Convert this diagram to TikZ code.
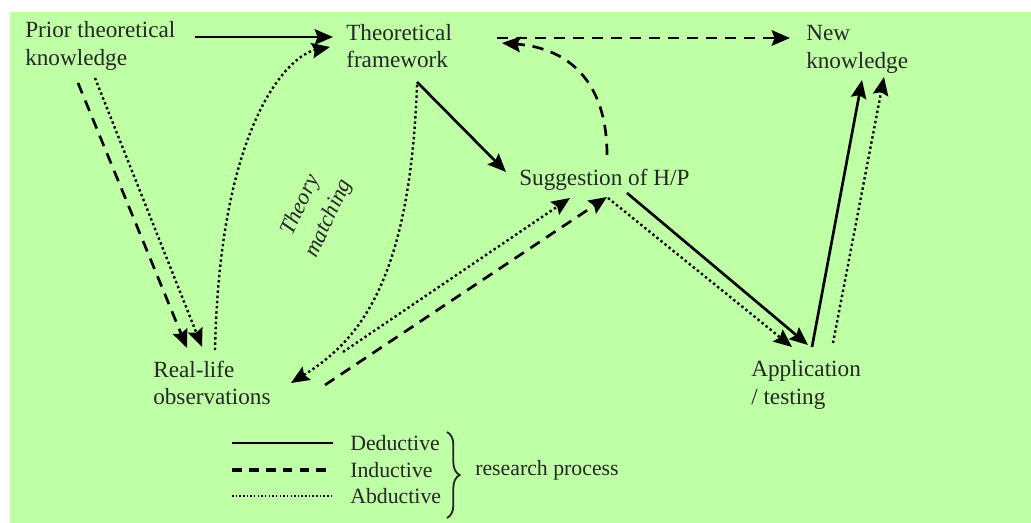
\documentclass[tikz,border=0pt]{standalone}
\usepackage{fontspec}
\setmainfont{Liberation Serif}
\usetikzlibrary{
  arrows.meta,
  decorations.pathreplacing
}
\definecolor{bggreen}{RGB}{191,255,166}
\definecolor{txt}{RGB}{38,38,38}

\begin{document}
\begin{tikzpicture}[
  x=0.025cm, y=-0.025cm,
  stage/.style={anchor=west, align=left, inner sep=0pt, text=txt, font=\fontsize{16.5}{19.8}\selectfont},
  key/.style={anchor=west, inner sep=0pt, text=txt, font=\fontsize{15.5}{18}\selectfont},
  tip/.style={-{Stealth[length=13pt,width=11pt,inset=2pt]}},
  ded/.style={line width=1.9pt, tip},
  ind/.style={line width=1.9pt, dash pattern=on 8pt off 5.5pt, tip},
  abd/.style={line width=1.7pt, dash pattern=on 1.7pt off 2pt, tip}
]
  % Background
  \useasboundingbox (0,0) rectangle (1031,523);
  \fill[bggreen] (10,12) rectangle (1031,523);

  % Stages
  \node[stage] (prior) at (25,46) {Prior theoretical\\knowledge};
  \node[stage] (frame) at (346,46) {Theoretical\\framework};
  \node[stage] (newk) at (806,49) {New\\knowledge};
  \node[stage] (hp) at (519,180) {Suggestion of H/P};
  \node[stage] (obs) at (153,383) {Real-life\\observations};
  \node[stage] (app) at (751,385) {Application\\/ testing};
  \node[stage, anchor=center, align=center, rotate=65,
        font=\fontsize{16}{22}\selectfont\itshape] (match) at (315,212) {Theory\\matching};

  % Deductive
  \draw[ded] ([shift={(170,-9)}]prior.west) -- ([shift={(-13,-9)}]frame.west);
  \draw[ded] ([shift={(71,36)}]frame.west) -- ([shift={(-13,-8)}]hp.west);
  \draw[ded] ([shift={(108,13)}]hp.west) -- ([shift={(57,-40)}]app.west);
  \draw[ded] ([shift={(61,-38)}]app.west) -- ([shift={(56,31)}]newk.west);

  % Inductive
  \draw[ind] ([shift={(151,-8)}]frame.west) -- ([shift={(-16,-11)}]newk.west);
  \draw[ind] ([shift={(88,-25)}]hp.west) .. controls +(0,-75) and +(65,5) .. ([shift={(156,-3)}]frame.west);
  \draw[ind] ([shift={(53,37)}]prior.west) -- ([shift={(34,-35)}]obs.west);
  \draw[ind] ([shift={(172,2)}]obs.west) -- ([shift={(88,17)}]hp.west);

  % Abductive
  \draw[abd] ([shift={(70,32)}]prior.west) -- ([shift={(49,-36)}]obs.west);
  \draw[abd] ([shift={(62,-33)}]obs.west) .. controls +(5,-230) and +(-40,8) .. ([shift={(-16,1)}]frame.west);
  \draw[abd] ([shift={(71,39)}]frame.west) .. controls +(-7,195) and +(69,-43) .. ([shift={(138,0)}]obs.west);
  \draw[abd] ([shift={(190,-31)}]obs.west) -- ([shift={(51,18)}]hp.west);
  \draw[abd] ([shift={(89,18)}]hp.west) -- ([shift={(41,-38)}]app.west);
  \draw[abd] ([shift={(82,-42)}]app.west) -- ([shift={(78,28)}]newk.west);

  % Legend
  \node[key] (keyded) at (350,443) {Deductive};
  \node[key] (keyind) at (350,470) {Inductive};
  \node[key] (keyabd) at (350,496) {Abductive};
  \draw[line width=1.8pt] ([shift={(-118,0)}]keyded.west) -- ([shift={(-17,0)}]keyded.west);
  \draw[line width=2.2pt, dash pattern=on 7pt off 5pt] ([shift={(-118,0)}]keyind.west) -- ([shift={(-17,0)}]keyind.west);
  \draw[line width=1.1pt, dash pattern=on 1.1pt off 1.5pt] ([shift={(-118,0)}]keyabd.west) -- ([shift={(-17,0)}]keyabd.west);
  \draw[txt, line width=1.3pt, decorate, decoration={brace, amplitude=9pt}] (447,432) -- (447,518);
  \node[key] (proc) at (475,470) {research process};
\end{tikzpicture}
\end{document}
